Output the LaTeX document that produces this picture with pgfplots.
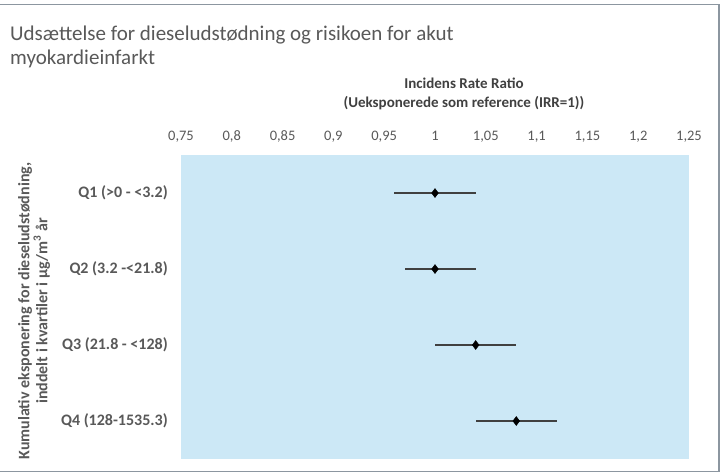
\documentclass[border=0pt]{standalone}
\usepackage{pgfplots}
\pgfplotsset{compat=1.18}
\usepackage{fontspec}
\setmainfont{Carlito}
\definecolor{plotbg}{RGB}{204,232,246}
\definecolor{titlegray}{RGB}{89,89,89}
\definecolor{labgray}{RGB}{64,64,64}
\definecolor{framegray}{RGB}{140,150,160}
\begin{document}
\begin{tikzpicture}[x=1pt,y=1pt]
\useasboundingbox (0,0) rectangle (721,-474);
\fill[white] (0,0) rectangle (721,-474);
\draw[framegray,line width=1.6pt] (0,-4.5) -- (719,-4.5) -- (719,-471.5) -- (0,-471.5);
\node[anchor=base west,font=\fontsize{21}{24}\selectfont,text=titlegray,inner sep=0] at (10,-40.5) {Udsættelse for dieseludstødning og risikoen for akut};
\node[anchor=base west,font=\fontsize{21}{24}\selectfont,text=titlegray,inner sep=0] at (10,-64) {myokardieinfarkt};
\node[anchor=base,font=\fontsize{15}{17}\selectfont\bfseries,text=labgray,inner sep=0] at (464,-88) {Incidens Rate Ratio};
\node[anchor=base,font=\fontsize{15}{17}\selectfont\bfseries,text=labgray,inner sep=0] at (464,-107) {(Ueksponerede som reference (IRR=1))};
\node[rotate=90,align=center,font=\fontsize{16}{18}\selectfont\bfseries,text=titlegray,inner sep=0] at (34,-311) {Kumulativ eksponering for dieseludstødning,\\inddelt i kvartiler i µg/m\textsuperscript{3} år};
\begin{axis}[
  at={(181pt,-155pt)}, anchor=north west,
  scale only axis, width=508pt, height=304pt,
  xmin=0.75, xmax=1.25, ymin=-0.5, ymax=3.5, y dir=reverse,
  axis background/.style={fill=plotbg},
  axis line style={draw=none},
  major tick length=0pt,
  xtick={0.75,0.8,0.85,0.9,0.95,1,1.05,1.1,1.15,1.2,1.25},
  xticklabel pos=top,
  ytick={0,1,2,3},
  yticklabels={Q1 (>0 - <3.2),Q2 (3.2 -<21.8),Q3 (21.8 - <128),Q4 (128-1535.3)},
  /pgf/number format/.cd, use comma, fixed, precision=2, assume math mode=true,
  /pgfplots/.cd,
  xticklabel style={font=\fontsize{14.5}{16}\selectfont, text=titlegray, anchor=base, yshift=15pt},
  yticklabel style={font=\fontsize{16}{18}\selectfont\bfseries, text=titlegray, xshift=-9.7pt},
  clip=false,
]
\addplot[draw=none, mark=none, error bars/.cd, x dir=both, x explicit, error mark=none,
  error bar style={line width=2pt, color=labgray}]
  coordinates {
  (1.00,0) -= (0.04,0) += (0.04,0)
  (1.00,1) -= (0.03,0) += (0.04,0)
  (1.04,2) -= (0.04,0) += (0.04,0)
  (1.08,3) -= (0.04,0) += (0.04,0)
  };
\addplot[only marks, mark=diamond*, mark size=4.5pt, black]
  coordinates {(1.00,0) (1.00,1) (1.04,2) (1.08,3)};
\end{axis}
\end{tikzpicture}
\end{document}
